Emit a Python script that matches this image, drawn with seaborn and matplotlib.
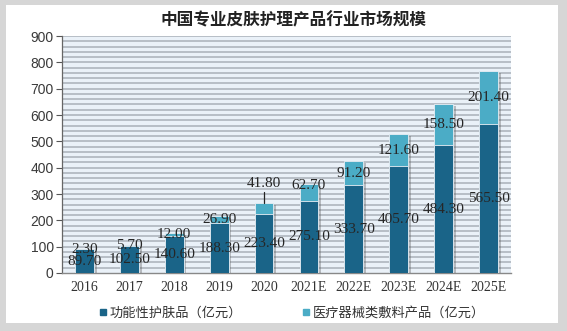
import matplotlib
matplotlib.use("Agg")
import matplotlib.pyplot as plt
from matplotlib.patches import Rectangle
from matplotlib.lines import Line2D
import matplotlib.patheffects as pe
import seaborn as sns
import pandas as pd
import numpy as np

years = ["2016", "2017", "2018", "2019", "2020", "2021E", "2022E", "2023E", "2024E", "2025E"]
functional = [89.70, 102.50, 140.60, 188.30, 223.40, 275.10, 333.70, 405.70, 484.30, 565.50]
dressing = [2.30, 5.70, 12.00, 26.90, 41.80, 62.70, 91.20, 121.60, 158.50, 201.40]
series_names = ["功能性护肤品（亿元）", "医疗器械类敷料产品（亿元）"]
title = "中国专业皮肤护理产品行业市场规模"

sns.set_theme(style="white")
plt.rcParams['font.family'] = ['Noto Sans CJK SC', 'DejaVu Sans']

dark = "#1a6488"
light = "#4bacc6"

df = pd.DataFrame({"year": years, "functional": functional, "dressing": dressing})
df["total"] = df["functional"] + df["dressing"]

fig = plt.figure(figsize=(5.67, 3.31), dpi=100)
fig.patch.set_facecolor("#d6d6d6")
bg = fig.add_axes([0, 0, 1, 1], zorder=-10)
bg.set_xlim(0, 567)
bg.set_ylim(331, 0)
bg.axis("off")
bg.add_patch(Rectangle((6, 5), 552, 318, facecolor="white", edgecolor="none"))

ax = fig.add_axes([62/567, (331-273)/331, (511-62)/567, (273-36)/331], zorder=2)
ax.set_facecolor("#eaf1f8")

sns.barplot(data=df, x="year", y="total", color=light, width=0.42, ax=ax,
            saturation=1, zorder=3, edgecolor="#e8eef4", linewidth=0.6)
sns.barplot(data=df, x="year", y="functional", color=dark, width=0.42, ax=ax,
            saturation=1, zorder=4, edgecolor="#e8eef4", linewidth=0.6)
n = len(years)
for p in ax.patches[:n]:
    p.set_path_effects([pe.SimplePatchShadow(offset=(2, -1.5), shadow_rgbFace="#555555", alpha=0.35),
                        pe.Normal()])

ax.set_ylim(0, 900)
ax.set_xlim(-0.5, n - 0.5)
for v in np.arange(20, 900, 20):
    ax.axhline(v, color="#b7bec6", lw=1.4, zorder=1)
ax.axhline(900, color="#b7bec6", lw=1.4, zorder=1)

ax.set_yticks(range(0, 901, 100))
ax.set_yticklabels([str(v) for v in range(0, 901, 100)], family="Liberation Sans",
                   fontsize=10, color="#3a3a3a")
ax.set_xticks(range(n))
ax.set_xticklabels(years, family="Liberation Serif", fontsize=10, color="#333333")
ax.tick_params(axis="y", length=4, width=0.8, color="#555555", pad=2, left=True)
ax.tick_params(axis="x", length=0, pad=6)
ax.set_xlabel("")
ax.set_ylabel("")
for s in ["top", "right"]:
    ax.spines[s].set_visible(False)
ax.spines["left"].set_color("#666666")
ax.spines["left"].set_linewidth(0.9)
ax.spines["bottom"].set_color("#888888")
ax.spines["bottom"].set_linewidth(1.0)

lab_kw = dict(ha="center", va="center", family="Liberation Serif", fontsize=11,
              color="#262626", zorder=6)
for i, (f, d) in enumerate(zip(functional, dressing)):
    ax.text(i, f / 2, f"{f:.2f}", **lab_kw)
    yc = f + d / 2
    if years[i] == "2020":
        ax.text(i, 338, f"{d:.2f}", **lab_kw)
        ax.plot([i, i], [f + d, 306], color="#222222", lw=0.9, zorder=6)
    elif years[i] == "2021E":
        ax.text(i, 334, f"{d:.2f}", **lab_kw)
    else:
        ax.text(i, yc, f"{d:.2f}", **lab_kw)

fig.text(293/567, 1 - 20/331, title, ha="center", va="center", fontsize=12,
         fontweight="bold", color="#222222")

handles = [Line2D([], [], marker="s", ls="none", color=dark, markersize=5),
           Line2D([], [], marker="s", ls="none", color=light, markersize=5)]
leg = fig.legend(handles, series_names, loc="center", bbox_to_anchor=(292/567, 1 - 313/331),
                 ncol=2, frameon=False, fontsize=9.5, handlelength=0.6, handletextpad=0.2,
                 columnspacing=4.5)
for t in leg.get_texts():
    t.set_color("#333333")

fig.savefig("out.png", dpi=100, facecolor=fig.get_facecolor())
